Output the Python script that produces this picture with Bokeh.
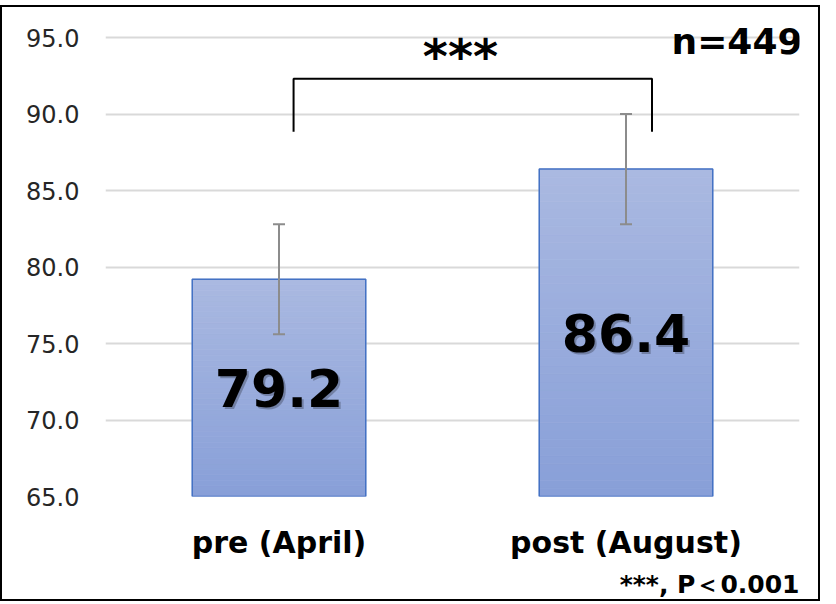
import numpy as np
from bokeh.plotting import figure
from bokeh.models import (FactorRange, Range1d, Whisker, ColumnDataSource, Label,
                          Title, FixedTicker, NumeralTickFormatter, TeeHead)
from bokeh.core.properties import value
from bokeh.embed import file_html
from bokeh.resources import INLINE

# ---- data ----
categories = ["pre (April)", "post (August)"]
means = [79.2, 86.4]
sds = [3.6, 3.6]
y_ticks = [65, 70, 75, 80, 85, 90, 95]
n_text = "n=449"
sig_text = "***"
note_text = "***, P＜0.001"

Y0 = 65.0
FNAME = "DejaVu Sans"
FONT = value(FNAME)

p = figure(width=820, height=596, output_backend="svg", toolbar_location=None,
           x_range=FactorRange(*categories, range_padding=0),
           y_range=Range1d(Y0, 96.18),
           min_border_left=103, min_border_right=23, min_border_top=12,
           min_border_bottom=101)
p.styles = {"border": "2px solid black", "box-sizing": "border-box",
            "margin-top": "5px"}
p.outline_line_color = None
p.background_fill_color = "white"
p.border_fill_color = "white"

# grid / axes
p.xgrid.grid_line_color = None
p.ygrid.grid_line_color = "#d9d9d9"
p.ygrid.grid_line_width = 2
p.yaxis.ticker = FixedTicker(ticks=y_ticks)
p.yaxis.formatter = NumeralTickFormatter(format="0.0")
for ax in (p.xaxis[0], p.yaxis[0]):
    ax.axis_line_color = None
    ax.major_tick_line_color = None
    ax.minor_tick_line_color = None
    ax.major_label_text_font = FNAME
p.yaxis.major_label_text_font_size = "24px"
p.yaxis.major_label_text_color = "#262626"
p.yaxis.major_label_standoff = 20
p.xaxis.major_label_text_font_size = "30px"
p.xaxis.major_label_text_font_style = "bold"
p.xaxis.major_label_text_color = "black"
p.xaxis.major_label_standoff = 22

# gradient bars built as bands
N = 40
top_col = np.array([0xAA, 0xB9, 0xE1])
bot_col = np.array([0x88, 0x9F, 0xD8])
bx, bb, bt, bc = [], [], [], []
for c, m in zip(categories, means):
    for k in range(N):
        lo = Y0 + (m - Y0) * k / N
        hi = Y0 + (m - Y0) * (k + 1) / N
        f = (k + 0.5) / N
        col = bot_col + (top_col - bot_col) * f
        bx.append(c); bb.append(lo); bt.append(hi)
        bc.append("#%02x%02x%02x" % tuple(int(round(v)) for v in col))
p.vbar(x=bx, bottom=bb, top=bt, width=0.5, fill_color=bc, line_color=bc, line_width=0.8)
p.vbar(x=categories, bottom=Y0, top=means, width=0.5, fill_color=None,
       line_color="#4472c4", line_width=1.5)

# error bars
src = ColumnDataSource(dict(x=categories,
                            upper=[m + s for m, s in zip(means, sds)],
                            lower=[m - s for m, s in zip(means, sds)]))
w = Whisker(base="x", upper="upper", lower="lower", source=src,
            line_color="#8c8c8c", line_width=2,
            upper_head=TeeHead(size=12, line_color="#8c8c8c", line_width=2),
            lower_head=TeeHead(size=12, line_color="#8c8c8c", line_width=2))
w.level = "annotation"
p.add_layout(w)

# value labels centred in bars (with soft shadow)
lab_y = [(Y0 + m) / 2 for m in means]
lab_t = ["%.1f" % m for m in means]
p.text(x=categories, y=lab_y, text=lab_t, text_align="center", text_baseline="middle",
       text_font=FONT, text_font_size="52px", text_font_style="bold",
       text_color="#000000", text_alpha=0.25, x_offset=2, y_offset=2)
p.text(x=categories, y=lab_y, text=lab_t, text_align="center", text_baseline="middle",
       text_font=FONT, text_font_size="52px", text_font_style="bold",
       text_color="black")

# significance bracket
p.line(x=[0.542, 0.542, 1.575, 1.575], y=[88.85, 92.3, 92.3, 88.85],
       line_color="black", line_width=2)
p.add_layout(Label(x=1.0, y=93.8, text=sig_text, text_align="center",
                   text_baseline="middle", x_offset=8, text_font=FNAME,
                   text_font_size="48px", text_font_style="bold", text_color="black"))
p.add_layout(Label(x=2.0, y=94.77, text=n_text, text_align="right",
                   text_baseline="middle", x_offset=3, text_font=FNAME,
                   text_font_size="36px", text_font_style="bold", text_color="black"))

p.add_layout(Title(text=note_text, align="right", text_font=FNAME,
                   text_font_size="25px", text_font_style="bold",
                   text_color="black"), "below")

open("out.html", "w").write(file_html(p, INLINE))
